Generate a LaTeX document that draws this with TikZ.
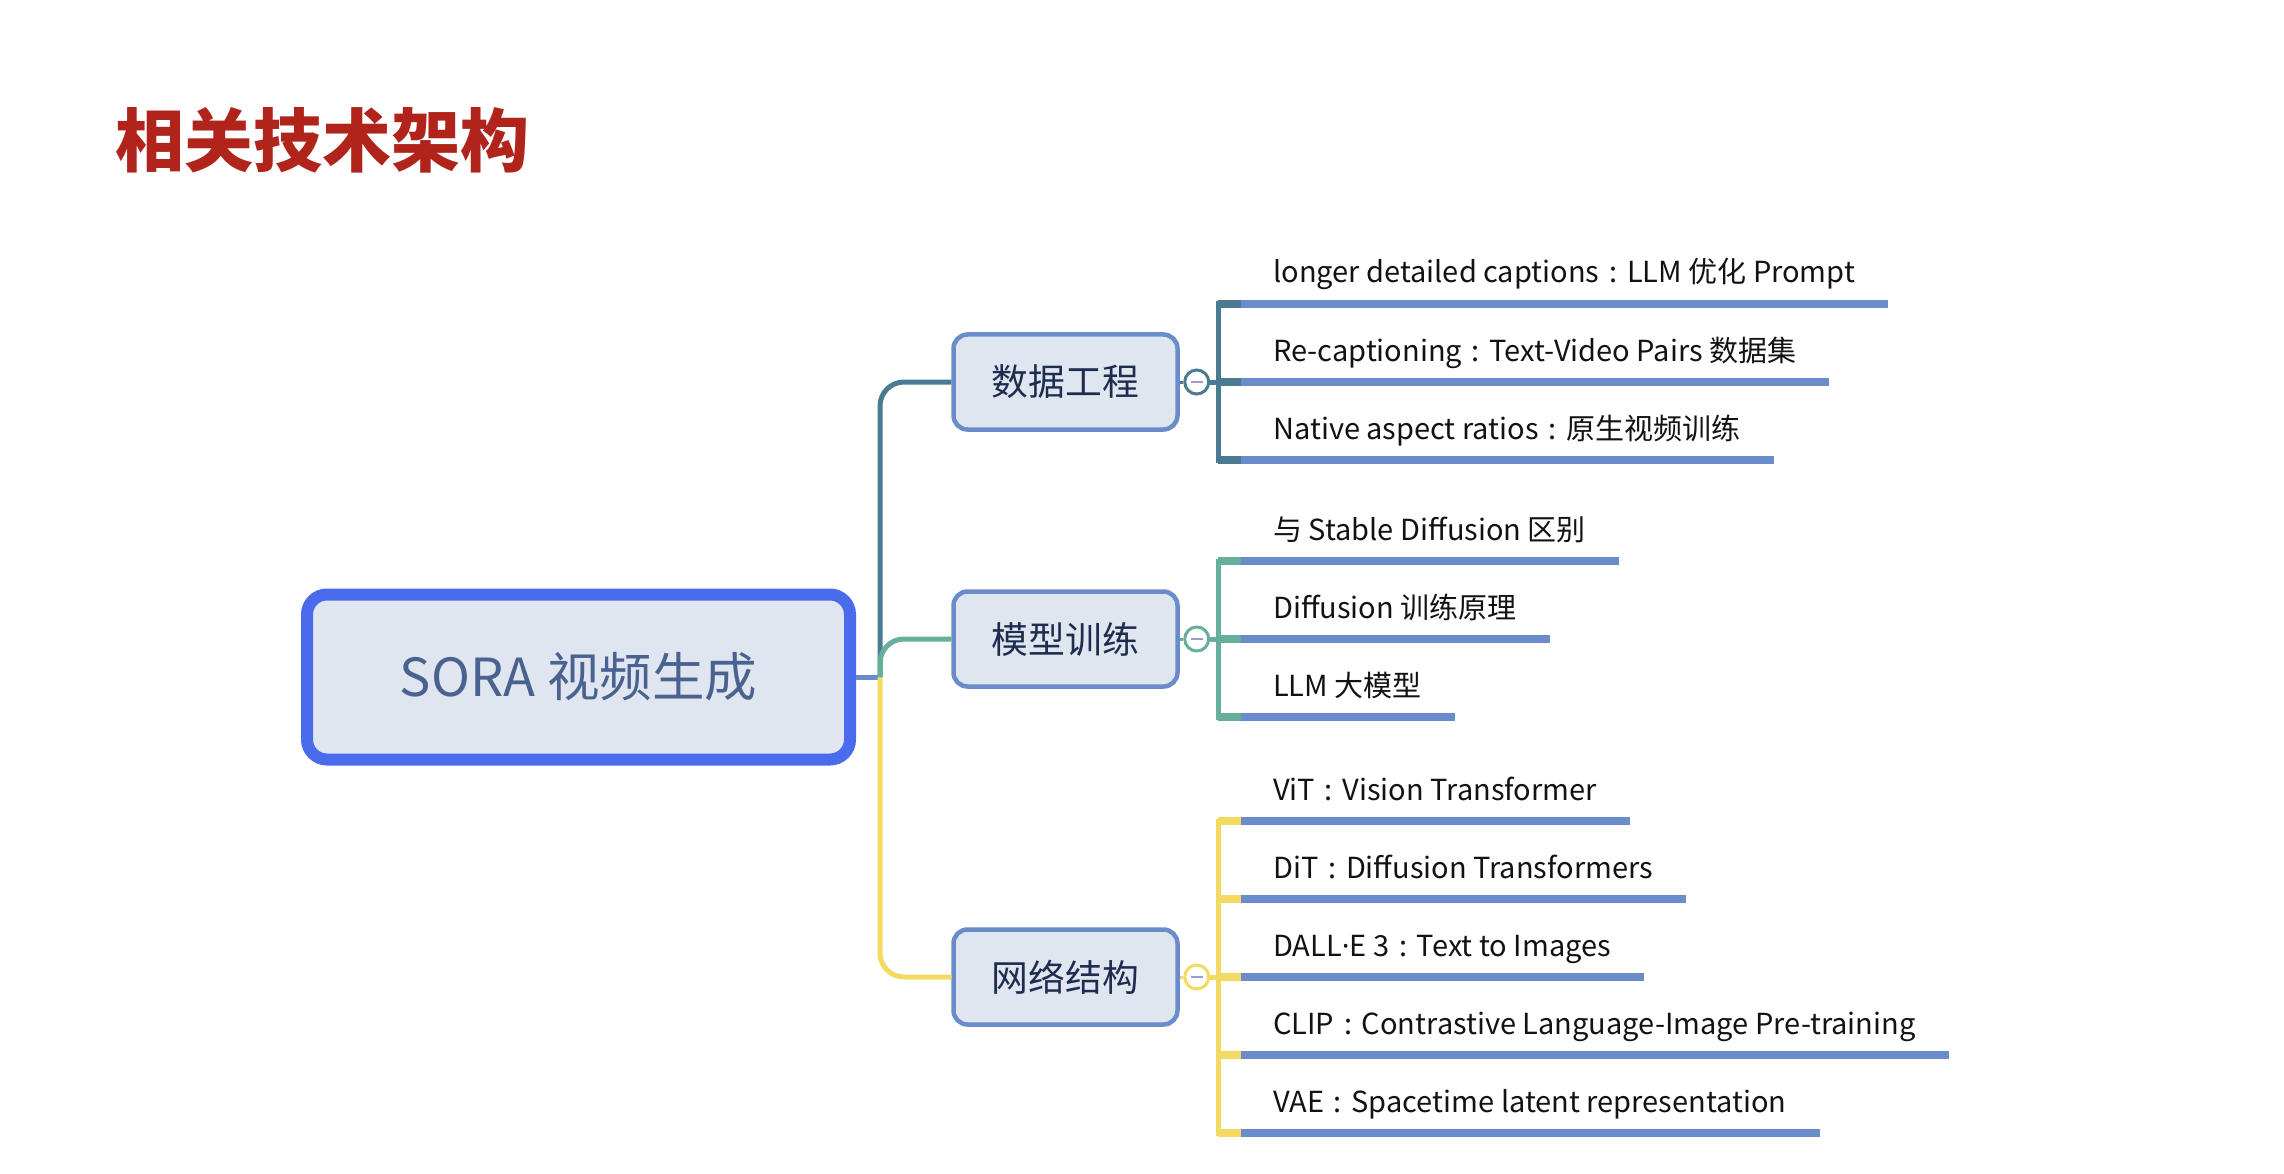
\documentclass[tikz,border=0pt]{standalone}
\usepackage{fontspec}
\setmainfont{Noto Sans CJK SC}
\newfontfamily\latinf{Noto Sans}
\newcommand\fcolon{\makebox[0.95em]{:}}
\usetikzlibrary{calc}
\definecolor{titlered}{HTML}{B0241B}
\definecolor{rootblue}{HTML}{4A6CEC}
\definecolor{boxfill}{HTML}{DFE6F0}
\definecolor{boxline}{HTML}{6B8CCB}
\definecolor{roottext}{HTML}{4A628F}
\definecolor{branchtext}{HTML}{1E2D4F}
\definecolor{cteal}{HTML}{4A7B92}
\definecolor{cgreen}{HTML}{67AE9D}
\definecolor{cyellow}{HTML}{F5DA62}
\definecolor{minuscol}{HTML}{9C9CCC}
\tikzset{
  rootbox/.style={draw=rootblue, line width=12pt, fill=boxfill, rounded corners=20pt,
    minimum width=543pt, minimum height=165pt, text=roottext, font=\fontsize{52.5}{62}\selectfont},
  branchbox/.style={draw=boxline, line width=4.5pt, fill=boxfill, rounded corners=14pt,
    minimum width=224pt, minimum height=95pt, text=branchtext, font=\fontsize{36.8}{44}\selectfont},
  leaftext/.style={anchor=base west, inner sep=0pt, text=black!93, font=\fontsize{29}{35}\selectfont},
  uline/.style={draw=boxline, line width=8pt},
  trunk/.style={line width=5pt, rounded corners=24pt},
  collapse/.style={circle, draw=#1, line width=3pt, fill=white, minimum size=24pt, inner sep=0pt},
  bracket/.style={draw=#1, line width=5pt, line join=miter},
  stub/.style={draw=#1, line width=8pt},
}
\begin{document}
\begin{tikzpicture}[x=1pt,y=-1pt]
\useasboundingbox (0,0) rectangle (2284,1174);

% title
\node[anchor=west, inner sep=0pt, text=titlered, font=\fontsize{69}{80}\selectfont\bfseries] (title) at (115,140) {相关技术架构};

% root
\node[rootbox] (root) at (578.5,677) {SORA 视频生成};

% branch boxes
\node[branchbox] (b1) at (1065.5,382) {数据工程};
\node[branchbox] (b2) at (1065.5,639) {模型训练};
\node[branchbox] (b3) at (1065.5,977) {网络结构};

% trunk
\coordinate (tr) at (880,677);
\draw[boxline, line width=5pt] (root.east) -- (tr);
\draw[cyellow, trunk] (tr) |- (b3.west);
\draw[cteal, trunk] (tr) |- (b1.west);
\draw[cgreen, trunk] (tr) |- (b2.west);

% collapse circles
\foreach \b/\c in {b1/cteal, b2/cgreen, b3/cyellow}{
  \node[collapse=\c] (c\b) at ($(\b.east)+(17,0)$) {};
  \draw[\c, line width=3pt] (\b.east) -- (c\b.west);
  \draw[minuscol, line width=2.5pt] ($(c\b.center)+(-6,0)$) -- ($(c\b.center)+(6,0)$);
  \coordinate (k\b) at (1218, 0 |- \b.east);
  \draw[\c, line width=5pt] (c\b.east) -- (k\b);
}

% leaves: branch 1
\node[leaftext] (l11) at (1273,283) {longer detailed captions\fcolon LLM 优化 Prompt};
\node[leaftext] (l12) at (1273,361) {Re-captioning\fcolon Text-Video Pairs 数据集};
\node[leaftext] (l13) at (1273,439) {Native aspect ratios\fcolon 原生视频训练};
% branch 2
\node[leaftext] (l21) at (1273,540) {与 Stable Diffusion 区别};
\node[leaftext] (l22) at (1273,618) {Diffusion 训练原理};
\node[leaftext] (l23) at (1273,696) {LLM 大模型};
% branch 3
\node[leaftext] (l31) at (1273,800) {ViT\fcolon Vision Transformer};
\node[leaftext] (l32) at (1273,878) {DiT\fcolon Diffusion Transformers};
\node[leaftext] (l33) at (1273,956) {DALL{\latinf ·}E 3\fcolon Text to Images};
\node[leaftext] (l34) at (1273,1034) {CLIP\fcolon Contrastive Language-Image Pre-training};
\node[leaftext] (l35) at (1273,1112) {VAE\fcolon Spacetime latent representation};

% brackets
\draw[bracket=cteal] (1241,304) -- (1218,304) -- (1218,460) -- (1241,460);
\draw[bracket=cgreen] (1241,561) -- (1218,561) -- (1218,717) -- (1241,717);
\draw[bracket=cyellow] (1241,821) -- (1218,821) -- (1218,1133) -- (1241,1133);

% stubs + underlines
\foreach \l/\y/\c in {l11/304/cteal, l12/382/cteal, l13/460/cteal,
                      l21/561/cgreen, l22/639/cgreen, l23/717/cgreen,
                      l31/821/cyellow, l32/899/cyellow, l33/977/cyellow, l34/1055/cyellow, l35/1133/cyellow}{
  \coordinate (\l s) at (1241,\y);
  \coordinate (\l e) at ($(\l.east |- \l s)+(33,0)$);
  \draw[stub=\c] (1218,\y) -- (\l s);
  \draw[uline] (\l s) -- (\l e);
}
\end{tikzpicture}
\end{document}
